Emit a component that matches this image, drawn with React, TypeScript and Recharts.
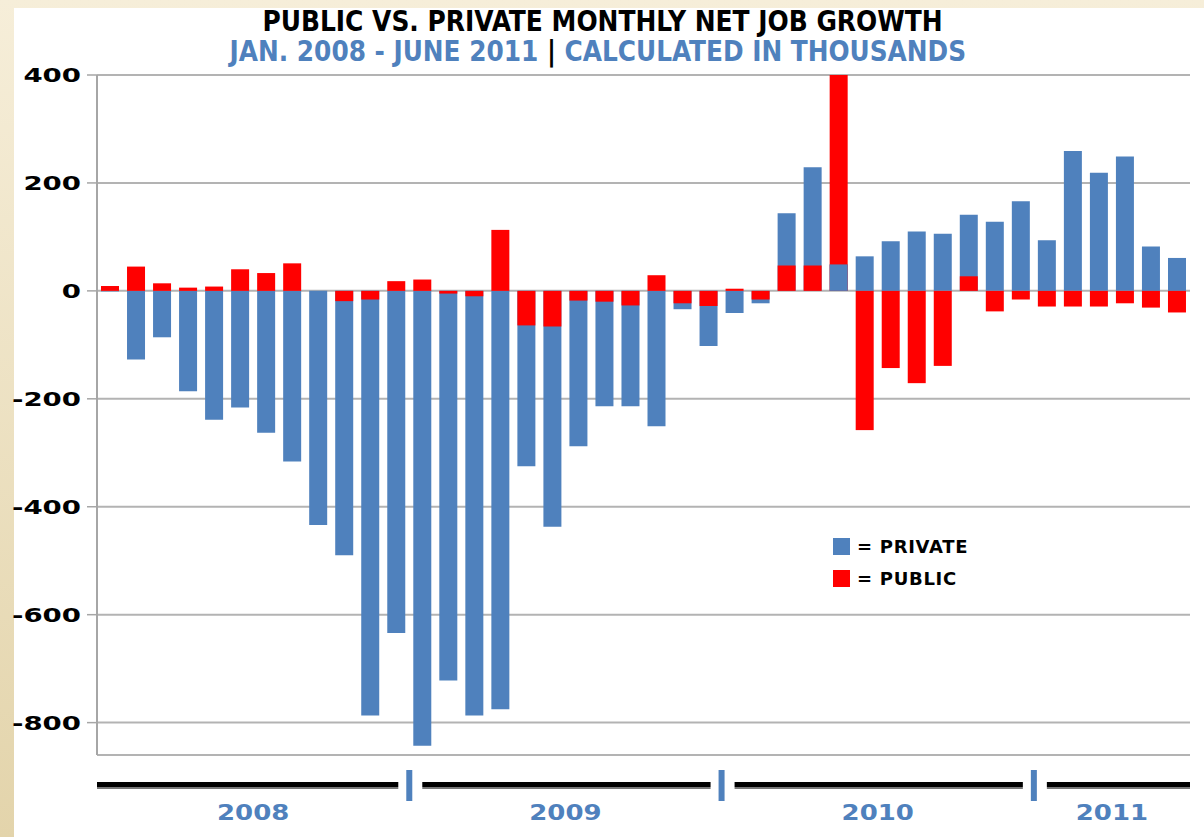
import React from "react";
import { BarChart, Bar, XAxis, YAxis, CartesianGrid } from "recharts";

const months = [
  "Jan 2008", "Feb 2008", "Mar 2008", "Apr 2008", "May 2008", "Jun 2008",
  "Jul 2008", "Aug 2008", "Sep 2008", "Oct 2008", "Nov 2008", "Dec 2008",
  "Jan 2009", "Feb 2009", "Mar 2009", "Apr 2009", "May 2009", "Jun 2009",
  "Jul 2009", "Aug 2009", "Sep 2009", "Oct 2009", "Nov 2009", "Dec 2009",
  "Jan 2010", "Feb 2010", "Mar 2010", "Apr 2010", "May 2010", "Jun 2010",
  "Jul 2010", "Aug 2010", "Sep 2010", "Oct 2010", "Nov 2010", "Dec 2010",
  "Jan 2011", "Feb 2011", "Mar 2011", "Apr 2011", "May 2011", "Jun 2011",
];

// thousands of jobs
const privateJobs = [
  -1, -127, -86, -186, -239, -216, -263, -316, -434, -490, -787, -634,
  -843, -722, -787, -775, -325, -437, -288, -214, -214, -251, -34, -102,
  -41, -23, 144, 229, 49, 64, 92, 110, 106, 141, 128, 166,
  94, 259, 219, 249, 82, 61,
];

const publicJobs = [
  9, 45, 14, 6, 8, 40, 33, 51, 0, -19, -16, 18,
  21, -5, -10, 113, -64, -66, -18, -20, -27, 29, -23, -28,
  4, -16, 47, 47, 400, -258, -143, -171, -139, 27, -38, -16,
  -29, -29, -29, -23, -31, -40,
];

const yTicks = [400, 200, 0, -200, -400, -600, -800];

const BLUE = "#4F81BD";
const RED = "#FF0000";

const W = 1204;
const H = 837;
const Y_AXIS_W = 97;
const RIGHT = 14;
const PLOT_W = W - Y_AXIS_W - RIGHT;
const band = PLOT_W / months.length;

const data = months.map((month, i) => ({
  month,
  privateJobs: privateJobs[i],
  publicJobs: publicJobs[i],
}));

const yearOf = (m: string) => m.slice(-4);

// red bar; when the private bar is smaller and on the same side, it shows on top
const PublicShape = (props: any) => {
  const { x, y, width, height, payload } = props;
  if (x == null || y == null) return null;
  const top = Math.min(y, y + height);
  const h = Math.abs(height);
  const pub = payload.publicJobs;
  const priv = payload.privateJobs;
  let overlay = null;
  if (pub * priv > 0 && Math.abs(priv) < Math.abs(pub)) {
    const ph = h * Math.abs(priv / pub);
    const py = pub > 0 ? top + h - ph : top;
    overlay = <rect x={x} y={py} width={width} height={ph} fill={BLUE} />;
  }
  return (
    <g>
      <rect x={x} y={top} width={width} height={h} fill={RED} />
      {overlay}
    </g>
  );
};

const YTick = (props: any) => {
  const { x, y, payload } = props;
  return (
    <text
      transform={`translate(${x},${y + 7}) scale(1.38,1)`}
      textAnchor="end"
      fontFamily="'DejaVu Sans', sans-serif"
      fontWeight="bold"
      fontSize={20}
      fill="#000"
    >
      {payload.value}
    </text>
  );
};

// one black rule per year under the plot, blue marks between years, year label centred
const MonthTick = (props: any) => {
  const { x, y } = props;
  const index = props.index ?? props.payload.index;
  const m = months[index];
  const yr = yearOf(m);
  const first = months.findIndex((s) => yearOf(s) === yr);
  if (index !== first) return null;
  let last = first;
  months.forEach((s, i) => {
    if (yearOf(s) === yr) last = i;
  });
  const left = x - band / 2 + (first > 0 ? 13 : 0);
  const right = x + (last - first) * band + band / 2 - (last < months.length - 1 ? 11 : 0);
  const lineY = y + 30;
  return (
    <g>
      <rect x={left} y={lineY + 2} width={right - left} height={2} fill="#777" />
      <rect x={left} y={lineY - 3} width={right - left} height={5} fill="#000" />
      {first > 0 && (
        <rect x={x - band / 2 - 3} y={lineY - 15} width={6} height={31} fill={BLUE} />
      )}
      <text
        transform={`translate(${x + ((last - first) * band) / 2},${y + 65}) scale(1.18,1)`}
        textAnchor="middle"
        fontFamily="'DejaVu Sans', sans-serif"
        fontWeight="bold"
        fontSize={22}
        fill={BLUE}
      >
        {yr}
      </text>
    </g>
  );
};

const legendItems = [
  { label: "= PRIVATE", color: BLUE },
  { label: "= PUBLIC", color: RED },
];

export default function App() {
  return (
    <div
      style={{
        position: "relative",
        width: W,
        height: H,
        overflow: "hidden",
        background: "linear-gradient(to bottom, #f6eed9, #e3d4ab)",
      }}
    >
      <style>{`body{margin:0}`}</style>
      <div style={{ position: "absolute", left: 14, top: 8, right: 0, bottom: 0, background: "#fff" }} />
      <div
        style={{
          position: "absolute",
          left: 0,
          top: 8,
          width: W,
          textAlign: "center",
          fontFamily: "'DejaVu Sans Condensed', sans-serif",
          fontWeight: "bold",
          fontSize: 28,
          lineHeight: "28px",
        }}
      >
        <div style={{ display: "inline-block", transform: "scaleX(0.99)", color: "#000", marginLeft: 2 }}>
          PUBLIC VS. PRIVATE MONTHLY NET JOB GROWTH
        </div>
        <br />
        <div style={{ display: "inline-block", transform: "scaleX(0.985)", color: BLUE, marginTop: 2, marginRight: 8 }}>
          JAN. 2008 - JUNE 2011 <span style={{ color: "#000" }}>|</span> CALCULATED IN THOUSANDS
        </div>
      </div>
      <div style={{ position: "absolute", left: 0, top: 0 }}>
        <BarChart
          width={W}
          height={H}
          data={data}
          margin={{ top: 75, right: RIGHT, bottom: 0, left: 0 }}
          barSize={18}
          barGap={-18}
        >
          <CartesianGrid horizontal vertical={false} stroke="#b3b3b3" strokeWidth={2} />
          <XAxis
            dataKey="month"
            interval={0}
            axisLine={false}
            tickLine={false}
            tickSize={0}
            tickMargin={0}
            height={82}
            tick={<MonthTick />}
          />
          <YAxis
            domain={[-860, 400]}
            ticks={yTicks}
            allowDataOverflow
            width={Y_AXIS_W}
            axisLine={{ stroke: "#a6a6a6", strokeWidth: 2 }}
            tickLine={{ stroke: "#a6a6a6", strokeWidth: 1.5 }}
            tickSize={10}
            tickMargin={6}
            tick={<YTick />}
          />
          <Bar dataKey="privateJobs" name="Private" fill={BLUE} isAnimationActive={false} />
          <Bar
            dataKey="publicJobs"
            name="Public"
            fill={RED}
            shape={<PublicShape />}
            isAnimationActive={false}
          />
        </BarChart>
      </div>
      <div
        style={{
          position: "absolute",
          left: 833,
          top: 530,
          fontFamily: "'DejaVu Sans', sans-serif",
          fontWeight: "bold",
          fontSize: 18,
        }}
      >
        {legendItems.map((item) => (
          <div key={item.label} style={{ display: "flex", alignItems: "center", height: 32 }}>
            <span style={{ width: 17, height: 17, background: item.color, marginRight: 7 }} />
            <span style={{ letterSpacing: 0.7, color: "#000" }}>{item.label}</span>
          </div>
        ))}
      </div>
    </div>
  );
}
